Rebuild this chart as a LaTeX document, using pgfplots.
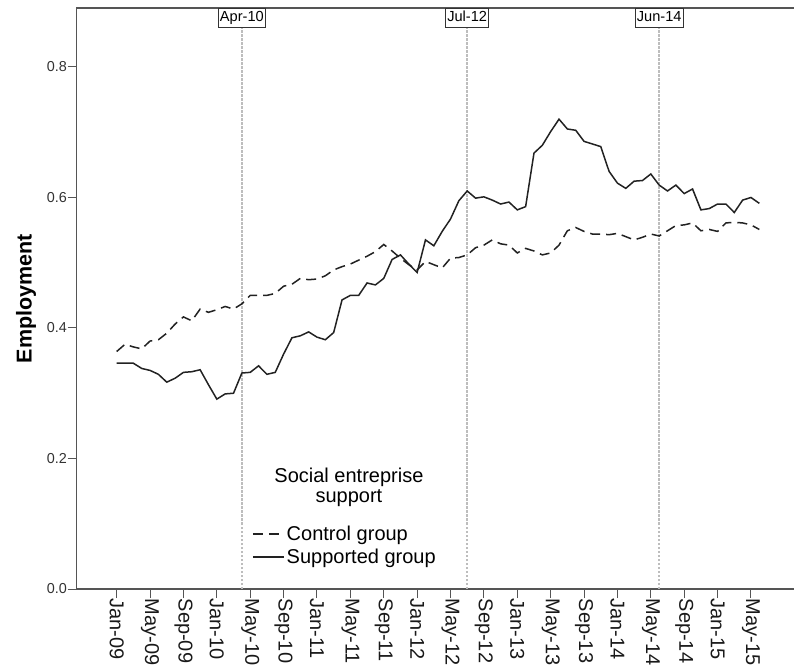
\documentclass[border=0pt]{standalone}
\usepackage{fontspec}
\setmainfont{Liberation Sans}
\usepackage{pgfplots}
\pgfplotsset{compat=1.18}
\usepackage{pgfplotstable}
\definecolor{axisgray}{HTML}{555555}
\definecolor{linecol}{HTML}{222222}
\definecolor{refgray}{HTML}{BDBDBD}

\pgfplotstableread{
m ctrl supp
0 0.364 0.346
1 0.375 0.346
2 0.371 0.346
3 0.368 0.338
4 0.380 0.335
5 0.382 0.329
6 0.392 0.317
7 0.406 0.323
8 0.417 0.332
9 0.411 0.333
10 0.429 0.336
11 0.424 0.313
12 0.428 0.291
13 0.433 0.299
14 0.429 0.300
15 0.437 0.331
16 0.450 0.332
17 0.450 0.342
18 0.450 0.329
19 0.453 0.332
20 0.464 0.360
21 0.467 0.385
22 0.476 0.388
23 0.474 0.394
24 0.475 0.386
25 0.480 0.382
26 0.489 0.393
27 0.494 0.443
28 0.498 0.450
29 0.504 0.450
30 0.510 0.469
31 0.517 0.466
32 0.528 0.476
33 0.518 0.505
34 0.507 0.512
35 0.497 0.498
36 0.489 0.485
37 0.502 0.535
38 0.497 0.526
39 0.492 0.548
40 0.507 0.567
41 0.508 0.595
42 0.512 0.610
43 0.523 0.599
44 0.527 0.601
45 0.535 0.596
46 0.529 0.590
47 0.527 0.593
48 0.515 0.581
49 0.522 0.586
50 0.518 0.668
51 0.512 0.680
52 0.515 0.701
53 0.527 0.720
54 0.549 0.705
55 0.554 0.703
56 0.548 0.686
57 0.544 0.682
58 0.544 0.678
59 0.543 0.640
60 0.545 0.622
61 0.540 0.614
62 0.535 0.625
63 0.539 0.626
64 0.544 0.636
65 0.541 0.619
66 0.549 0.610
67 0.557 0.619
68 0.558 0.606
69 0.561 0.613
70 0.549 0.581
71 0.551 0.583
72 0.548 0.590
73 0.561 0.590
74 0.562 0.577
75 0.561 0.596
76 0.558 0.600
77 0.551 0.591
}\datatable

\begin{document}
\begin{tikzpicture}
\useasboundingbox (-76.7pt,-82pt) rectangle (717.3pt,589pt);
\begin{axis}[
  scale only axis, width=720pt, height=581pt,
  xmin=-4.79, xmax=81.48, ymin=0, ymax=0.8904,
  axis line style={axisgray, line width=1.2pt},
  xtick={0,4,...,76},
  xticklabels={Jan-09,May-09,Sep-09,Jan-10,May-10,Sep-10,Jan-11,May-11,Sep-11,Jan-12,May-12,Sep-12,Jan-13,May-13,Sep-13,Jan-14,May-14,Sep-14,Jan-15,May-15},
  ytick={0,0.2,0.4,0.6,0.8},
  /pgf/number format/fixed, /pgf/number format/fixed zerofill, /pgf/number format/precision=1,
  /pgf/number format/assume math mode=true,
  tick align=outside, major tick length=9pt,
  tick style={axisgray, line width=1pt},
  xtick pos=left, ytick pos=left,
  xticklabel style={rotate=-90, anchor=west, font=\fontsize{20}{24}\selectfont, inner sep=0.5pt, text=black!90},
  yticklabel style={font=\fontsize{14.4}{17}\selectfont, inner sep=0.5pt, text=black!80},
  ylabel={Employment},
  ylabel style={font=\fontsize{21.5}{24}\selectfont\bfseries, at={(axis description cs:-0.0625,0.5)}, anchor=base},
  legend style={at={(axis description cs:0.2435,0.1119)}, anchor=north west, draw=none, fill=none,
    font=\fontsize{20}{24}\selectfont, inner sep=0pt, row sep=3pt,
    nodes={inner sep=2pt}},
  legend cell align=left,
  legend image code/.code={\draw[#1] (0pt,0pt) -- (31pt,0pt);},
]
\addplot[refgray, line width=1.6pt, dash pattern=on 2.5pt off 1.5pt, forget plot] coordinates {(15,0) (15,0.8598)};
\addplot[refgray, line width=1.6pt, dash pattern=on 2.5pt off 1.5pt, forget plot] coordinates {(42,0) (42,0.8598)};
\addplot[refgray, line width=1.6pt, dash pattern=on 2.5pt off 1.5pt, forget plot] coordinates {(65,0) (65,0.8598)};

\addplot[linecol, line width=1.5pt, dash pattern=on 10pt off 6pt] table[x=m, y=ctrl] {\datatable};
\addlegendentry{Control group}
\addplot[linecol, line width=1.5pt] table[x=m, y=supp] {\datatable};
\addlegendentry{Supported group}

\node[draw=black!80, line width=0.9pt, fill=white, inner xsep=1.5pt, inner ysep=2.6pt, text height=10.7pt, text depth=3.1pt, anchor=south, font=\fontsize{14.6}{17}\selectfont] at (axis cs:15,0.8598) {Apr-10};
\node[draw=black!80, line width=0.9pt, fill=white, inner xsep=1.5pt, inner ysep=2.6pt, text height=10.7pt, text depth=3.1pt, anchor=south, font=\fontsize{14.6}{17}\selectfont] at (axis cs:42,0.8598) {Jul-12};
\node[draw=black!80, line width=0.9pt, fill=white, inner xsep=1.5pt, inner ysep=2.6pt, text height=10.7pt, text depth=3.1pt, anchor=south, font=\fontsize{14.6}{17}\selectfont] at (axis cs:65,0.8598) {Jun-14};

\node[anchor=base, inner sep=0pt, font=\fontsize{20}{24}\selectfont] at (axis cs:27.83,0.1625) {Social entreprise};
\node[anchor=base, inner sep=0pt, font=\fontsize{20}{24}\selectfont] at (axis cs:27.83,0.133) {support};
\end{axis}
\end{tikzpicture}
\end{document}
